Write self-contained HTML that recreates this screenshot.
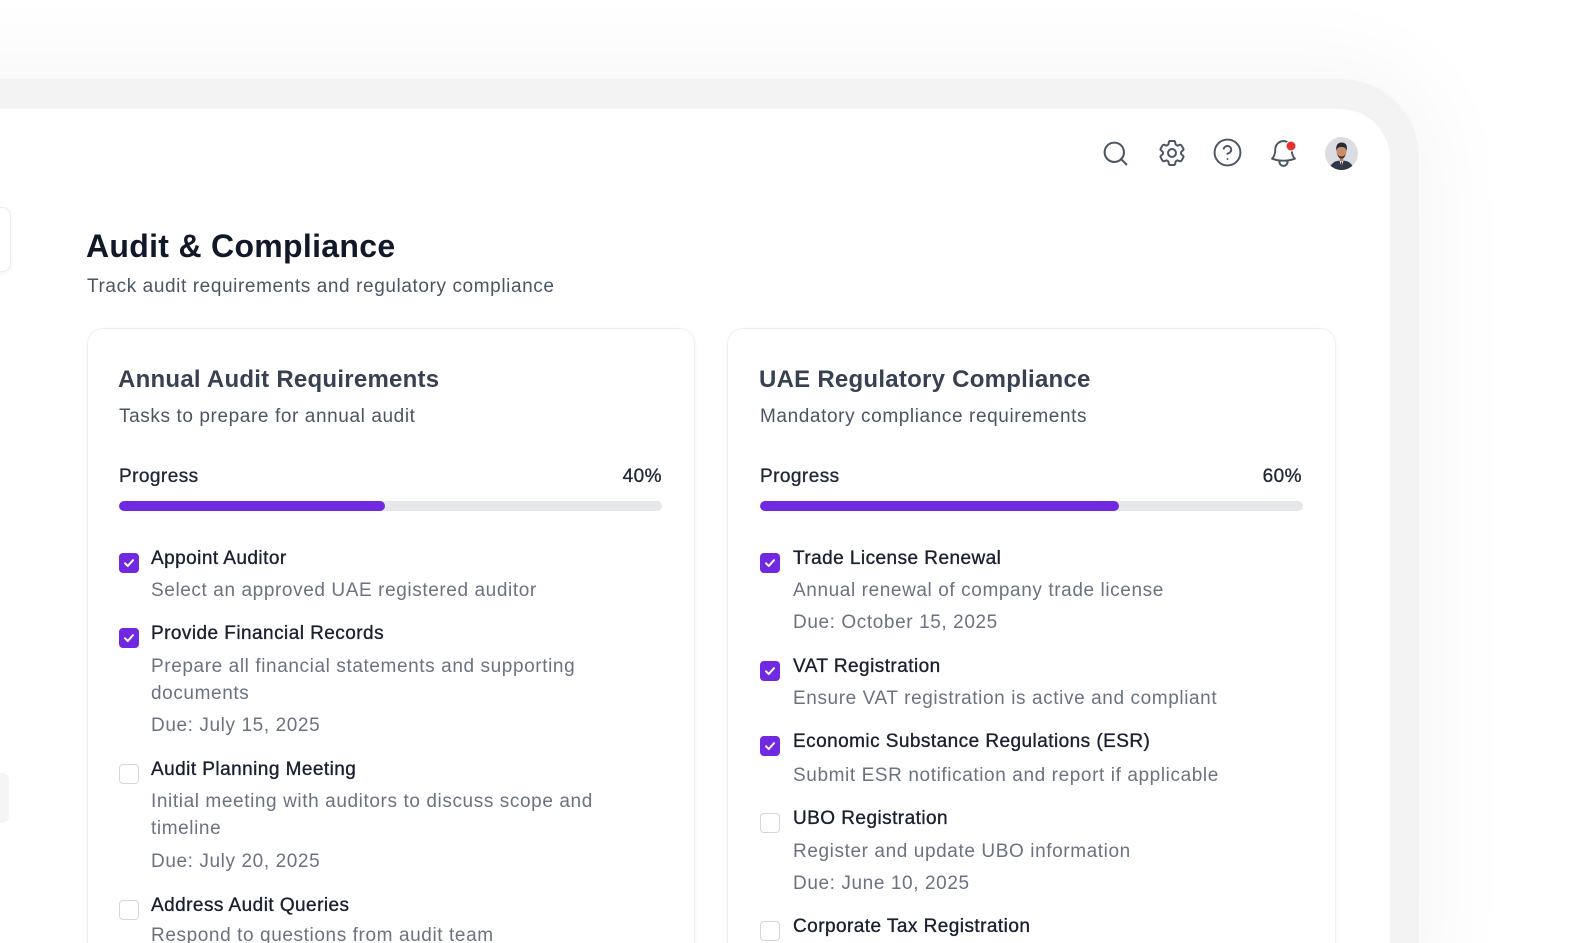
<!DOCTYPE html>
<html>
<head>
<meta charset="utf-8">
<style>
  html,body{margin:0;padding:0;width:1584px;height:943px;overflow:hidden;}
  body{background:#ffffff;font-family:"Liberation Sans",Arial,sans-serif;}
  #wrap{position:relative;width:1584px;height:943px;overflow:hidden;background:#ffffff;}
  .outer{position:absolute;left:-120px;top:79px;width:1539px;height:900px;background:#f3f3f4;border-top-right-radius:78px;box-shadow:0 0 90px 20px rgba(0,0,0,0.035);}
  .inner{position:absolute;left:-120px;top:109px;width:1510px;height:870px;background:#ffffff;border-top-right-radius:50px;}
  .lcard1{position:absolute;left:-30px;top:207px;width:39px;height:63px;background:#fff;border:1px solid #ececec;border-radius:9px;box-shadow:0 1px 4px rgba(0,0,0,0.06);}
  .lcard2{position:absolute;left:-30px;top:773px;width:39px;height:50px;background:#f5f5f6;border-radius:7px;}
  .card{position:absolute;top:328px;height:660px;background:#fff;border:1px solid #efefef;border-radius:16px;box-shadow:0 1px 6px rgba(0,0,0,0.035);}
  .t{position:absolute;white-space:nowrap;line-height:26px;height:26px;}
  .h1{font-size:32px;font-weight:bold;color:#111827;line-height:40px;height:40px;letter-spacing:0.3px;}
  .sub{font-size:19px;color:#4b5563;letter-spacing:0.6px;}
  .ct{font-size:24px;font-weight:bold;color:#374151;line-height:32px;height:32px;letter-spacing:0.25px;}
  .pl{font-size:19px;color:#1f2937;letter-spacing:0.45px;-webkit-text-stroke:0.35px #1f2937;}
  .it{font-size:19px;color:#1a2030;letter-spacing:0.45px;-webkit-text-stroke:0.35px #1a2030;}
  .d{font-size:19px;color:#6b7280;letter-spacing:0.6px;}
  .bar{position:absolute;height:10px;border-radius:5px;background:#e5e7eb;overflow:hidden;}
  .fill{position:absolute;left:0;top:0;height:10px;border-radius:5px;background:#7028e0;}
  .cb{position:absolute;width:18px;height:18px;border:1.5px solid #d4d6db;border-radius:4px;background:#fff;}
  .cb.on{background:#7028e0;border-color:#7028e0;}
  .cb svg{position:absolute;left:2px;top:2px;}
  .ic{position:absolute;}
</style>
</head>
<body>
<div id="wrap">
  <div class="outer"></div>
  <div class="inner"></div>
  <div class="lcard1"></div>
  <div class="lcard2"></div>

  <!-- header icons -->
  <svg class="ic" style="left:1101px;top:139px" width="29" height="29" viewBox="0 0 24 24" fill="none" stroke="#4b5563" stroke-width="1.7" stroke-linecap="round">
    <circle cx="11" cy="11" r="8"/><line x1="21" y1="21" x2="16.65" y2="16.65"/>
  </svg>
  <svg class="ic" style="left:1156px;top:137px" width="32" height="32" viewBox="0 0 24 24" fill="none" stroke="#4b5563" stroke-width="1.5" stroke-linecap="round" stroke-linejoin="round">
    <path d="M9.594 3.94c.09-.542.56-.94 1.11-.94h2.593c.55 0 1.02.398 1.11.94l.213 1.281c.063.374.313.686.645.87.074.04.147.083.22.127.325.196.72.257 1.075.124l1.217-.456a1.125 1.125 0 0 1 1.37.49l1.296 2.247a1.125 1.125 0 0 1-.26 1.431l-1.003.827c-.293.241-.438.613-.43.992a7.723 7.723 0 0 1 0 .255c-.008.378.137.75.43.991l1.004.827c.424.35.534.955.26 1.43l-1.298 2.247a1.125 1.125 0 0 1-1.369.491l-1.217-.456c-.355-.133-.75-.072-1.076.124a6.47 6.47 0 0 1-.22.128c-.331.183-.581.495-.644.869l-.213 1.281c-.09.543-.56.94-1.11.94h-2.594c-.55 0-1.019-.398-1.11-.94l-.213-1.281c-.062-.374-.312-.686-.644-.87a6.52 6.52 0 0 1-.22-.127c-.325-.196-.72-.257-1.076-.124l-1.217.456a1.125 1.125 0 0 1-1.369-.49l-1.297-2.247a1.125 1.125 0 0 1 .26-1.431l1.004-.827c.292-.24.437-.613.43-.991a6.932 6.932 0 0 1 0-.255c.007-.38-.138-.751-.43-.992l-1.004-.827a1.125 1.125 0 0 1-.26-1.43l1.297-2.247a1.125 1.125 0 0 1 1.37-.491l1.216.456c.356.133.751.072 1.076-.124.072-.044.146-.086.22-.128.332-.183.582-.495.644-.869l.214-1.28Z"/>
    <path d="M15 12a3 3 0 1 1-6 0 3 3 0 0 1 6 0Z"/>
  </svg>
  <svg class="ic" style="left:1212px;top:137px" width="31" height="31" viewBox="0 0 24 24" fill="none" stroke="#4b5563" stroke-width="1.5" stroke-linecap="round" stroke-linejoin="round">
    <circle cx="12" cy="12" r="10"/>
    <path d="M9.09 9a3 3 0 0 1 5.83 1c0 2-3 3-3 3"/>
    <line x1="12" y1="17" x2="12.01" y2="17"/>
  </svg>
  <svg class="ic" style="left:1267px;top:137px" width="33" height="33" viewBox="0 0 24 24" fill="none" stroke="#4b5563" stroke-width="1.4" stroke-linecap="round" stroke-linejoin="round">
    <path d="M14.857 17.082a23.848 23.848 0 0 0 5.454-1.31A8.967 8.967 0 0 1 18 9.75V9A6 6 0 0 0 6 9v.75a8.967 8.967 0 0 1-2.312 6.022c1.733.64 3.56 1.085 5.455 1.31m5.714 0a24.255 24.255 0 0 1-5.714 0m5.714 0a3 3 0 1 1-5.714 0"/>
  </svg>
  <svg class="ic" style="left:1285px;top:140px" width="12" height="12" viewBox="0 0 12 12">
    <circle cx="6" cy="6" r="5" fill="#e3342f" stroke="#fff" stroke-width="1"/>
  </svg>
  <!-- avatar -->
  <svg class="ic" style="left:1325px;top:137px" width="33" height="33" viewBox="0 0 33 33">
    <defs><clipPath id="av"><circle cx="16.5" cy="16.5" r="16.5"/></clipPath></defs>
    <g clip-path="url(#av)">
      <rect width="33" height="33" fill="#dcdde2"/>
      <path d="M4 33 C6 25 11 23.5 16.5 23.5 C22 23.5 27 25 29 33 Z" fill="#2f3645"/>
      <path d="M14.5 23.5 L16.5 30 L18.5 23.5 Z" fill="#f2f2f2"/>
      <path d="M16 24.5 L17 24.5 L17.3 30 L16.5 31 L15.7 30 Z" fill="#3a3f4f"/>
      <rect x="14.8" y="19" width="3.4" height="5" fill="#b57a5c"/>
      <ellipse cx="16.5" cy="14.5" rx="5" ry="6" fill="#c98d6c"/>
      <path d="M11.3 14 C10.5 8 13 5.5 16.5 5.5 C20.5 5.5 22.8 8 21.7 14 C21 11 19.5 10 16.5 10 C13.5 10 12 11 11.3 14 Z" fill="#262b36"/>
      <path d="M12.5 17 C13 21 15 21.5 16.5 21.5 C18 21.5 20 21 20.5 17 C19.5 19 18 19.5 16.5 19.5 C15 19.5 13.5 19 12.5 17 Z" fill="#3a2f2c"/>
    </g>
  </svg>

  <!-- page heading -->
  <div class="t h1" style="left:86px;top:226px;">Audit &amp; Compliance</div>
  <div class="t sub" style="left:87px;top:274px;">Track audit requirements and regulatory compliance</div>

  <!-- card 1 -->
  <div class="card" style="left:87px;width:606px;"></div>
  <div class="t ct" style="left:118px;top:364px;">Annual Audit Requirements</div>
  <div class="t sub" style="left:119px;top:404px;">Tasks to prepare for annual audit</div>
  <div class="t pl" style="left:119px;top:464px;">Progress</div>
  <div class="t pl" style="left:560px;top:464px;width:102px;text-align:right;">40%</div>
  <div class="bar" style="left:119px;top:501px;width:543px;"><div class="fill" style="width:266px;"></div></div>

  <div class="cb on" style="left:119px;top:553px;"><svg width="14" height="14" viewBox="0 0 14 14"><path d="M3 7.3 L5.8 10 L11 4.2" fill="none" stroke="#fff" stroke-width="2" stroke-linecap="round" stroke-linejoin="round"/></svg></div>
  <div class="t it" style="left:151px;top:546px;">Appoint Auditor</div>
  <div class="t d" style="left:151px;top:578px;">Select an approved UAE registered auditor</div>

  <div class="cb on" style="left:119px;top:628px;"><svg width="14" height="14" viewBox="0 0 14 14"><path d="M3 7.3 L5.8 10 L11 4.2" fill="none" stroke="#fff" stroke-width="2" stroke-linecap="round" stroke-linejoin="round"/></svg></div>
  <div class="t it" style="left:151px;top:621px;">Provide Financial Records</div>
  <div class="t d" style="left:151px;top:654px;">Prepare all financial statements and supporting</div>
  <div class="t d" style="left:151px;top:681px;">documents</div>
  <div class="t d" style="left:151px;top:713px;">Due: July 15, 2025</div>

  <div class="cb" style="left:119px;top:764px;"></div>
  <div class="t it" style="left:151px;top:757px;">Audit Planning Meeting</div>
  <div class="t d" style="left:151px;top:789px;">Initial meeting with auditors to discuss scope and</div>
  <div class="t d" style="left:151px;top:816px;">timeline</div>
  <div class="t d" style="left:151px;top:849px;">Due: July 20, 2025</div>

  <div class="cb" style="left:119px;top:900px;"></div>
  <div class="t it" style="left:151px;top:893px;">Address Audit Queries</div>
  <div class="t d" style="left:151px;top:923px;">Respond to questions from audit team</div>

  <!-- card 2 -->
  <div class="card" style="left:727px;width:607px;"></div>
  <div class="t ct" style="left:759px;top:364px;">UAE Regulatory Compliance</div>
  <div class="t sub" style="left:760px;top:404px;">Mandatory compliance requirements</div>
  <div class="t pl" style="left:760px;top:464px;">Progress</div>
  <div class="t pl" style="left:1200px;top:464px;width:102px;text-align:right;">60%</div>
  <div class="bar" style="left:760px;top:501px;width:543px;"><div class="fill" style="width:359px;"></div></div>

  <div class="cb on" style="left:760px;top:553px;"><svg width="14" height="14" viewBox="0 0 14 14"><path d="M3 7.3 L5.8 10 L11 4.2" fill="none" stroke="#fff" stroke-width="2" stroke-linecap="round" stroke-linejoin="round"/></svg></div>
  <div class="t it" style="left:793px;top:546px;">Trade License Renewal</div>
  <div class="t d" style="left:793px;top:578px;">Annual renewal of company trade license</div>
  <div class="t d" style="left:793px;top:610px;">Due: October 15, 2025</div>

  <div class="cb on" style="left:760px;top:661px;"><svg width="14" height="14" viewBox="0 0 14 14"><path d="M3 7.3 L5.8 10 L11 4.2" fill="none" stroke="#fff" stroke-width="2" stroke-linecap="round" stroke-linejoin="round"/></svg></div>
  <div class="t it" style="left:793px;top:654px;">VAT Registration</div>
  <div class="t d" style="left:793px;top:686px;">Ensure VAT registration is active and compliant</div>

  <div class="cb on" style="left:760px;top:736px;"><svg width="14" height="14" viewBox="0 0 14 14"><path d="M3 7.3 L5.8 10 L11 4.2" fill="none" stroke="#fff" stroke-width="2" stroke-linecap="round" stroke-linejoin="round"/></svg></div>
  <div class="t it" style="left:793px;top:729px;">Economic Substance Regulations (ESR)</div>
  <div class="t d" style="left:793px;top:763px;">Submit ESR notification and report if applicable</div>

  <div class="cb" style="left:760px;top:813px;"></div>
  <div class="t it" style="left:793px;top:806px;">UBO Registration</div>
  <div class="t d" style="left:793px;top:839px;">Register and update UBO information</div>
  <div class="t d" style="left:793px;top:871px;">Due: June 10, 2025</div>

  <div class="cb" style="left:760px;top:921px;"></div>
  <div class="t it" style="left:793px;top:914px;">Corporate Tax Registration</div>
</div>
</body>
</html>
